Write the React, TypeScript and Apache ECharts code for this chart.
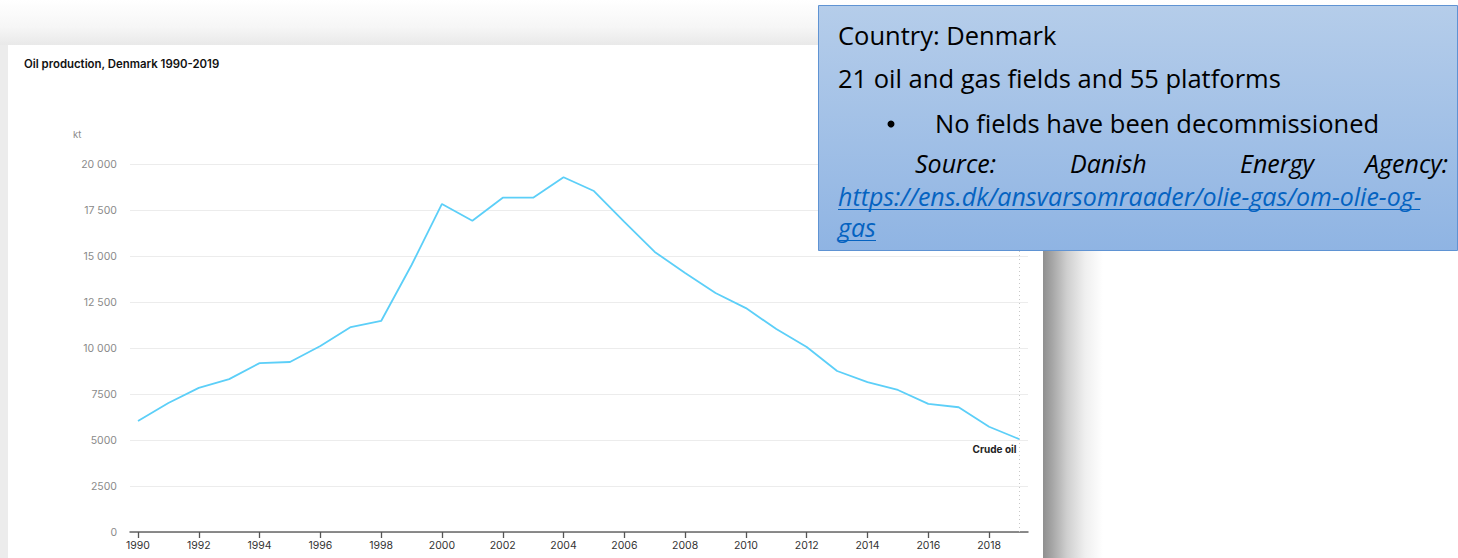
import React, { useEffect, useRef } from "react";
import * as echarts from "echarts";

const years: number[] = [
  1990, 1991, 1992, 1993, 1994, 1995, 1996, 1997, 1998, 1999,
  2000, 2001, 2002, 2003, 2004, 2005, 2006, 2007, 2008, 2009,
  2010, 2011, 2012, 2013, 2014, 2015, 2016, 2017, 2018, 2019,
];
const crudeOil: number[] = [
  6030, 7010, 7830, 8310, 9180, 9240, 10110, 11140, 11470, 14510,
  17830, 16920, 18170, 18170, 19280, 18530, 16850, 15220, 14080, 12990,
  12170, 11030, 10050, 8750, 8150, 7720, 6960, 6780, 5720, 5040,
];
const xTickYears: number[] = [1990, 1992, 1994, 1996, 1998, 2000, 2002, 2004, 2006, 2008, 2010, 2012, 2014, 2016, 2018];
const seriesName = "Crude oil";
const chartTitle = "Oil production, Denmark 1990-2019";
const unitLabel = "kt";
const boxLines = {
  country: "Country: Denmark",
  fields: "21 oil and gas fields and 55 platforms",
  bullet: "No fields have been decommissioned",
  sourceWords: ["Source:", "Danish", "Energy", "Agency:"],
  url1: "https://ens.dk/ansvarsomraader/olie-gas/om-olie-og-",
  url2: "gas",
};

function fmtY(v: number): string {
  if (v >= 10000) {
    const s = String(v);
    return s.slice(0, s.length - 3) + " " + s.slice(s.length - 3);
  }
  return String(v);
}

export default function App() {
  const ref = useRef<HTMLDivElement>(null);
  useEffect(() => {
    document.body.style.margin = "0";
    const chart = echarts.init(ref.current!, null, { renderer: "svg" });
    const boxFont = "'Open Sans', 'Noto Sans', sans-serif";
    const regular = `25.5px ${boxFont}`;
    const italic = `italic 25px ${boxFont}`;
    const option: any = {
      animation: false,
      backgroundColor: "#ffffff",
      grid: { left: 130, right: 430, top: 164, bottom: 26, containLabel: false },
      xAxis: {
        type: "value",
        min: 1989.737,
        max: 2019.28,
        axisLine: { show: true, lineStyle: { color: "#666666", width: 1.5 } },
        axisTick: { show: true, customValues: xTickYears, length: 6, lineStyle: { color: "#555555", width: 1.3 } },
        axisLabel: {
          customValues: xTickYears,
          margin: 8,
          color: "#333333",
          fontSize: 10.5,
          fontFamily: "Inter, sans-serif",
          formatter: (v: number) => String(Math.round(v)),
        },
        splitLine: { show: false },
      },
      yAxis: {
        type: "value",
        min: 0,
        max: 20000,
        interval: 2500,
        axisLine: { show: false },
        axisTick: { show: false },
        axisLabel: {
          margin: 13,
          color: "#8a8a8a",
          fontSize: 10.5,
          fontFamily: "Inter, sans-serif",
          formatter: (v: number) => fmtY(v),
        },
        splitLine: { lineStyle: { color: "#ececec", width: 1 } },
      },
      series: [
        {
          name: seriesName,
          type: "line",
          data: years.map((y, i) => [y, crudeOil[i]]),
          showSymbol: false,
          symbol: "none",
          lineStyle: { color: "#5ccff8", width: 1.8 },
          endLabel: {
            show: true,
            formatter: seriesName,
            align: "right",
            verticalAlign: "middle",
            offset: [-11, 10],
            color: "#222222",
            fontWeight: "bold",
            fontSize: 10,
            fontFamily: "Inter, sans-serif",
          },
          markLine: {
            silent: true,
            symbol: "none",
            label: { show: false },
            lineStyle: { color: "#c8c8c8", type: [1, 3], width: 1 },
            data: [{ xAxis: years[years.length - 1] }],
          },
          z: 3,
        },
      ],
      graphic: [
        {
          type: "rect",
          z: -10,
          silent: true,
          shape: { x: 0, y: 0, width: 1458, height: 45 },
          style: {
            fill: new echarts.graphic.LinearGradient(0, 0, 0, 1, [
              { offset: 0, color: "#ffffff" },
              { offset: 0.6, color: "#f6f6f6" },
              { offset: 1, color: "#e9e9e9" },
            ]),
          },
        },
        {
          type: "rect",
          z: -10,
          silent: true,
          shape: { x: 0, y: 45, width: 8, height: 513 },
          style: { fill: "#ececec" },
        },
        {
          type: "rect",
          z: -10,
          silent: true,
          shape: { x: 1043, y: 45, width: 60, height: 513 },
          style: {
            fill: new echarts.graphic.LinearGradient(0, 0, 1, 0, [
              { offset: 0, color: "#8f8f8f" },
              { offset: 0.15, color: "#a5a5a5" },
              { offset: 0.4, color: "#cfcfcf" },
              { offset: 0.7, color: "#efefef" },
              { offset: 1, color: "#ffffff" },
            ]),
          },
        },
        {
          type: "text",
          left: 24,
          top: 58,
          style: {
            text: chartTitle,
            fill: "#111111",
            font: "600 11.4px Inter, sans-serif",
          },
        },
        {
          type: "text",
          left: 73,
          top: 129,
          style: { text: unitLabel, fill: "#8a8a8a", font: "9.5px Inter, sans-serif" },
        },
        {
          type: "rect",
          z: 50,
          shape: { x: 818.5, y: 5.5, width: 639, height: 245 },
          style: {
            fill: new echarts.graphic.LinearGradient(0, 0, 0, 1, [
              { offset: 0, color: "#b5cdea" },
              { offset: 1, color: "#8fb4e3" },
            ]),
            stroke: "#5f93d3",
            lineWidth: 1,
          },
        },
        {
          type: "text", z: 51, x: 838, y: 35,
          style: { text: boxLines.country, fill: "#000000", font: regular, verticalAlign: "middle" },
        },
        {
          type: "text", z: 51, x: 838, y: 78,
          style: { text: boxLines.fields, fill: "#000000", font: regular, verticalAlign: "middle" },
        },
        {
          type: "circle", z: 51,
          shape: { cx: 891, cy: 124, r: 3.5 },
          style: { fill: "#000000" },
        },
        {
          type: "text", z: 51, x: 935, y: 123,
          style: { text: boxLines.bullet, fill: "#000000", font: regular, verticalAlign: "middle" },
        },
        {
          type: "text", z: 51, x: 915, y: 163,
          style: { text: boxLines.sourceWords[0], fill: "#000000", font: italic, verticalAlign: "middle" },
        },
        {
          type: "text", z: 51, x: 1070, y: 163,
          style: { text: boxLines.sourceWords[1], fill: "#000000", font: italic, verticalAlign: "middle" },
        },
        {
          type: "text", z: 51, x: 1240, y: 163,
          style: { text: boxLines.sourceWords[2], fill: "#000000", font: italic, verticalAlign: "middle" },
        },
        {
          type: "text", z: 51, x: 1448, y: 163,
          style: { text: boxLines.sourceWords[3], fill: "#000000", font: italic, verticalAlign: "middle", align: "right" },
        },
        {
          type: "text", z: 51, x: 838, y: 196,
          style: { text: boxLines.url1, fill: "#0563c1", font: italic, verticalAlign: "middle" },
        },
        {
          type: "line", z: 51,
          shape: { x1: 838, y1: 209.5, x2: 1420, y2: 209.5 },
          style: { stroke: "#0563c1", lineWidth: 1.2 },
        },
        {
          type: "text", z: 51, x: 838, y: 227,
          style: { text: boxLines.url2, fill: "#0563c1", font: italic, verticalAlign: "middle" },
        },
        {
          type: "line", z: 51,
          shape: { x1: 838, y1: 240.5, x2: 876, y2: 240.5 },
          style: { stroke: "#0563c1", lineWidth: 1.2 },
        },
      ],
    };
    chart.setOption(option);
    return () => chart.dispose();
  }, []);
  return (
    <div
      ref={ref}
      style={{ position: "fixed", left: 0, top: 0, width: 1458, height: 558 }}
    />
  );
}
